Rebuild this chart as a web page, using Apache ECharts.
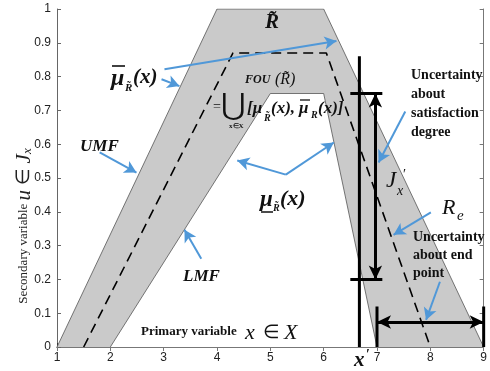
<!DOCTYPE html>
<html><head><meta charset="utf-8">
<script src="https://cdn.jsdelivr.net/npm/echarts@6/dist/echarts.min.js"></script>
<style>html,body{margin:0;padding:0;background:#fff}#c{width:490px;height:371px}</style>
</head><body><div id="c"></div>
<script>
// ---- data ----
const umfX = [1, 4, 6, 9];
const umfY = [0, 1, 1, 0];
const lmfX = [2, 5, 6, 7];
const lmfY = [0, 0.75, 0.75, 0];
const midX = [1.5, 4.3, 6.05, 8];
const midY = [0, 0.87, 0.87, 0];
const xPrime = 6.67;
const xPrimeTop = 0.86;
const jxX = 6.97;
const jxLow = 0.2, jxHigh = 0.75;
const tickBarX = [6.5, 7.1];
const endLeft = 7, endRight = 9, endY = 0.074, endBarTop = 0.12;
const xTicks = [1,2,3,4,5,6,7,8,9];
const yTicks = [0,0.1,0.2,0.3,0.4,0.5,0.6,0.7,0.8,0.9,1];
// annotation arrows [x0,y0,x1,y1] in data units
const blueArrows = [
  [3.015, 0.822, 6.24, 0.905],
  [2.96, 0.792, 3.295, 0.772],
  [1.80, 0.576, 2.49, 0.516],
  [3.705, 0.261, 3.39, 0.347],
  [5.29, 0.51, 4.38, 0.552],
  [5.29, 0.51, 6.19, 0.605],
  [7.53, 0.697, 7.03, 0.546],
  [8.01, 0.398, 7.31, 0.332],
  [8.18, 0.193, 7.92, 0.080]
];

const pts = (xs, ys) => xs.map((x, i) => [x, ys[i]]);
const SERIF = '"Liberation Serif","Times New Roman",serif';
const BLUE = '#5098d8';

const chart = echarts.init(document.getElementById('c'), null, {renderer: 'canvas'});

function T(x, y, text, size, o) {
  o = o || {};
  return {type: 'text', x: x, y: y, z: 100, rotation: o.rot || 0,
    style: {text: text, fontSize: size, fontFamily: o.ff || SERIF,
      fontWeight: o.w || 'bold', fontStyle: o.s || 'italic', fill: o.c || '#111',
      align: o.a || 'left', verticalAlign: o.va || 'middle', lineHeight: o.lh || undefined}};
}
function L(x1, y1, x2, y2, w) {
  return {type: 'line', z: 100, shape: {x1, y1, x2, y2}, style: {stroke: '#111', lineWidth: w || 1.3}};
}

const blackLine = (data, w) => ({type: 'line', data: data, symbol: 'none', silent: true,
  lineStyle: {color: '#000', width: w || 3}, z: 5});

const option = {
  animation: false,
  grid: {left: 57, right: 4, top: 9, bottom: 24},
  xAxis: [{
    type: 'value', min: 1, max: 9, interval: 1,
    axisLine: {lineStyle: {color: '#333', width: 1}},
    axisTick: {inside: true, length: 4, lineStyle: {color: '#333'}},
    axisLabel: {color: '#222', fontSize: 12, fontFamily: '"Liberation Sans",Arial,sans-serif', margin: 5},
    splitLine: {show: false}
  }, {
    type: 'value', min: 1, max: 9, interval: 1, position: 'top',
    axisLine: {show: true, lineStyle: {color: '#777'}},
    axisTick: {show: true, inside: true, length: 4, lineStyle: {color: '#777'}},
    axisLabel: {show: false}, splitLine: {show: false}
  }],
  yAxis: [{
    type: 'value', min: 0, max: 1, interval: 0.1,
    axisLine: {show: true, lineStyle: {color: '#666'}},
    axisTick: {show: true, inside: true, length: 4, lineStyle: {color: '#666'}},
    axisLabel: {color: '#222', fontSize: 12, fontFamily: '"Liberation Sans",Arial,sans-serif', margin: 6,
      formatter: v => String(Math.round(v * 10) / 10)},
    splitLine: {show: false}
  }, {
    type: 'value', min: 0, max: 1, interval: 0.1, position: 'right',
    axisLine: {show: true, lineStyle: {color: '#777'}},
    axisTick: {show: true, inside: true, length: 4, lineStyle: {color: '#777'}},
    axisLabel: {show: false}, splitLine: {show: false}
  }],
  series: [
    {type: 'line', data: pts(umfX, umfY), symbol: 'none', silent: true, z: 1,
      lineStyle: {color: '#555', width: 0.8}, areaStyle: {color: '#cacaca', opacity: 1}},
    {type: 'line', data: pts(lmfX, lmfY), symbol: 'none', silent: true, z: 2,
      lineStyle: {color: '#555', width: 0.8}, areaStyle: {color: '#ffffff', opacity: 1}},
    {type: 'line', data: pts(midX, midY), symbol: 'none', silent: true, z: 3,
      lineStyle: {color: '#000', width: 1.6, type: [10, 6]}},
    blackLine([[xPrime, 0], [xPrime, xPrimeTop]]),
    blackLine([[tickBarX[0], jxHigh], [tickBarX[1], jxHigh]]),
    blackLine([[tickBarX[0], jxLow], [tickBarX[1], jxLow]]),
    blackLine([[endLeft, 0], [endLeft, endBarTop]]),
    blackLine([[endRight, 0], [endRight, endBarTop]]),
    {type: 'line', data: [], silent: true, z: 6,
      markLine: {silent: true, symbol: ['arrow', 'arrow'], symbolSize: [10, 14], label: {show: false},
        lineStyle: {color: '#000', width: 3, type: 'solid'},
        data: [
          [{coord: [jxX, jxLow]}, {coord: [jxX, jxHigh]}],
          [{coord: [endLeft, endY]}, {coord: [endRight, endY]}]
        ]}},
    {type: 'line', data: [], silent: true, z: 7,
      markLine: {silent: true, symbol: ['none', 'arrow'], symbolSize: [10, 12], label: {show: false},
        lineStyle: {color: BLUE, width: 2, type: 'solid'},
        data: blueArrows.map(a => [{coord: [a[0], a[1]]}, {coord: [a[2], a[3]]}])}}
  ],
  graphic: [
    // R tilde at top
    T(265, 23, 'R\u0303', 21),
    // mu bar label
    T(111, 79, 'μ', 24), L(112, 66, 125, 66, 1.6),
    T(125, 88, 'R\u0303', 11), T(133, 78, '(x)', 21),
    // FOU
    T(245, 80, 'FOU', 12), T(275, 80, '(R\u0303)', 16, {w: 'normal'}),
    T(213, 107, '=', 14, {s: 'normal', w: 'normal'}),
    T(221, 107, '⋃', 30, {s: 'normal', w: 'normal', ff: '"DejaVu Serif",serif'}),
    T(229, 126, 'x∈X', 7, {s: 'normal'}),
    T(247, 109, '[μ', 17), T(264, 118, 'R\u0303', 10), T(271, 109, '(x),', 17),
    T(299, 109, 'μ', 17), L(300, 100, 310, 100, 1.3), T(311, 115, 'R', 10), T(318, 109, '(x)]', 17),
    // UMF / LMF
    T(80, 147, 'UMF', 17), T(183, 277, 'LMF', 17),
    // mu underline label
    T(260, 200, 'μ', 23), L(261, 212, 273, 212, 1.5), T(273, 208, 'R\u0303', 10), T(280, 199, '(x)', 22),
    // uncertainty texts
    T(411, 104, 'Uncertainty\nabout\nsatisfaction\ndegree', 14, {s: 'normal', lh: 19}),
    T(413, 255, 'Uncertainty\nabout end\npoint', 14, {s: 'normal', lh: 18}),
    // Jx'
    T(386, 181, 'J', 23, {w: 'normal'}), T(397, 191, 'x', 14, {w: 'normal'}), T(403, 175, '\u2032', 14, {w: 'normal', s: 'normal'}),
    // Re
    T(442, 208, 'R', 22, {w: 'normal'}), T(457, 216, 'e', 15, {w: 'normal'}),
    // primary variable
    T(141, 332, 'Primary variable', 13, {s: 'normal'}),
    T(245, 333, 'x', 22, {w: 'normal'}), T(263, 333, '∈', 19, {s: 'normal', w: 'normal'}), T(284, 333, 'X', 22, {w: 'normal'}),
    // x'
    T(354, 361, 'x', 21), T(366, 355, '\u2032', 14, {s: 'normal'}),
    // y axis name
    {type: 'text', x: 24, y: 226, rotation: Math.PI / 2, z: 100,
      style: {text: '{a|Secondary variable }{b|u}{c| ∈ }{b|J}{d|x}', align: 'center', verticalAlign: 'middle',
        rich: {
          a: {fontSize: 13, fontFamily: SERIF, fill: '#222'},
          b: {fontSize: 21, fontFamily: SERIF, fontStyle: 'italic', fill: '#222'},
          c: {fontSize: 19, fontFamily: SERIF, fill: '#222'},
          d: {fontSize: 13, fontFamily: SERIF, fontStyle: 'italic', fill: '#222', padding: [8, 0, 0, 0]}
        }}}
  ]
};
chart.setOption(option);
</script></body></html>
